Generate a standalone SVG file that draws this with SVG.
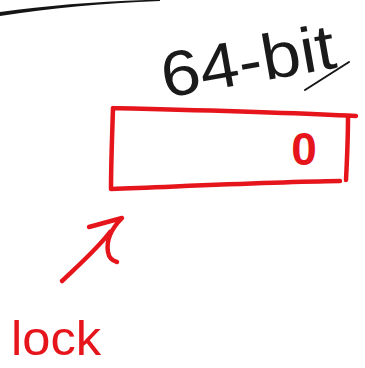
<svg xmlns="http://www.w3.org/2000/svg" width="365" height="368" viewBox="0 0 365 368">
<style>
.red{fill:none;stroke:#e5151b;stroke-width:4.5;stroke-linecap:round;stroke-linejoin:round}
.ink{fill:none;stroke:#151515;stroke-linecap:round;stroke-linejoin:round}
.hand{font-family:"Liberation Sans","DejaVu Sans",sans-serif;font-weight:normal}
.hand.bold{font-weight:bold}
</style>
<rect width="365" height="368" fill="#ffffff"/>
<g id="top-stroke">
<path d="M0 12 C50 5 100 1.5 160 -0.5 L160 1 C100 3.5 50 8 0 16 Z" fill="#151515"/>
</g>
<g id="label-64bit">
<text class="hand" x="165" y="98" font-size="64" fill="#1a1a1a" textLength="176" lengthAdjust="spacingAndGlyphs" transform="rotate(-10 165 98)">64-bit</text>
<path class="ink" stroke-width="2" d="M305 90 L349 62"/>
</g>
<g id="register">
<path class="red" d="M113 108 C190 110 280 112 356 116 M113 108 C112 140 111 165 111 189 C190 186 270 182 340 181 M348 117 C348 140 347 160 346 180"/>
<text class="hand bold" x="304" y="165" font-size="46" fill="#e5151b" text-anchor="middle">0</text>
</g>
<g id="label-lock">
<text class="hand" x="11" y="355" font-size="48" fill="#e5151b" textLength="90" lengthAdjust="spacingAndGlyphs">lock</text>
</g>
<g id="connectors">
<path class="red" d="M62 281 C80 264 98 248 110 232 M89 227 L122 218 C112 228 106 240 108 252 C109 258 113 261 117 262"/>
</g>
</svg>
